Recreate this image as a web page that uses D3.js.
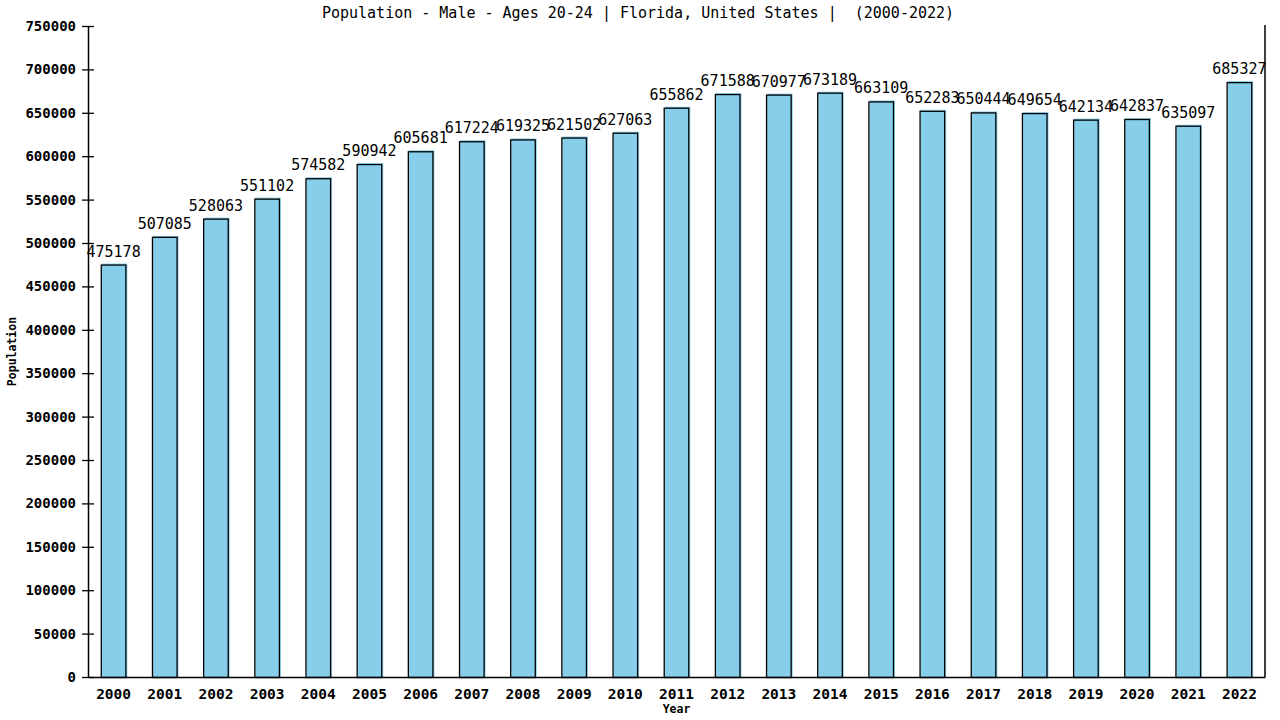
<!DOCTYPE html>
<html>
<head>
<meta charset="utf-8">
<script src="https://cdn.jsdelivr.net/npm/d3@7"></script>
<style>
  body { margin: 0; background: #fff; }
  text { font-family: "DejaVu Sans Mono", monospace; fill: #000; }
</style>
</head>
<body>
<svg id="chart" width="1280" height="720"></svg>
<script>
var years = ['2000', '2001', '2002', '2003', '2004', '2005', '2006', '2007', '2008', '2009', '2010', '2011',
    '2012', '2013', '2014', '2015', '2016', '2017', '2018', '2019', '2020', '2021', '2022']
var population = [475178, 507085, 528063, 551102, 574582, 590942, 605681, 617224, 619325, 621502, 627063, 655862,
    671588, 670977, 673189, 663109, 652283, 650444, 649654, 642134, 642837, 635097, 685327]
var yTicks = [0, 50000, 100000, 150000, 200000, 250000, 300000, 350000, 400000, 450000, 500000, 550000,
    600000, 650000, 700000, 750000]
var title = 'Population - Male - Ages 20-24 | Florida, United States |  (2000-2022)'

var svg = d3.select('#chart')
var plotL = 88, plotR = 1265, plotT = 26, plotB = 677

var x = d3.scaleBand().domain(years).range([plotL, plotR]).paddingInner(0.5).paddingOuter(0.25)
var y = d3.scaleLinear().domain([0, 750000]).range([plotB, plotT])

svg.append('text')
    .attr('x', 638).attr('y', 18)
    .attr('text-anchor', 'middle')
    .style('font-size', '15px')
    .style('white-space', 'pre')
    .text(title)

// bars: blue fill nudged right/up, then black outline
var bars = svg.selectAll('g.bar')
    .data(population)
    .enter()
        .append('g')
        .attr('class', 'bar')
bars.append('rect')
    .attr('x', function(d, i) { return x(years[i]) + 1; })
    .attr('y', function(d) { return y(d) - 1; })
    .attr('width', x.bandwidth())
    .attr('height', function(d) { return plotB - y(d) + 1; })
    .attr('fill', '#87ceeb')
bars.append('rect')
    .attr('x', function(d, i) { return x(years[i]) + 0.5; })
    .attr('y', function(d) { return y(d) + 0.5; })
    .attr('width', x.bandwidth() - 1)
    .attr('height', function(d) { return plotB - y(d); })
    .attr('fill', 'none')
    .attr('stroke', '#000')
    .attr('stroke-width', 1.3)

svg.selectAll('text.val')
    .data(population)
    .enter()
        .append('text')
        .attr('class', 'val')
        .attr('text-anchor', 'middle')
        .attr('x', function(d, i) { return x(years[i]) + x.bandwidth() / 2; })
        .attr('y', function(d) { return y(d) - 8; })
        .style('font-size', '15px')
        .text(function(d) { return d; })

var yAxis = svg.append('g')
    .attr('transform', 'translate(' + plotL + ',0)')
    .call(d3.axisLeft(y).tickValues(yTicks).tickSize(6).tickSizeOuter(0).tickFormat(d3.format('d')))
yAxis.selectAll('text').style('font-size', '14px').style('font-weight', 'bold').attr('x', -12)
yAxis.selectAll('line').attr('x1', 6).attr('x2', -6)

var xAxis = svg.append('g')
    .attr('transform', 'translate(0,' + plotB + ')')
    .call(d3.axisBottom(x).tickSize(0).tickSizeOuter(0))
xAxis.selectAll('text').style('font-size', '14.5px').style('font-weight', 'bold').attr('dy', '1.3em')
svg.selectAll('.domain').attr('stroke', '#000').attr('stroke-width', 1.5)
svg.selectAll('.tick line').attr('stroke', '#000').attr('stroke-width', 1.3)

svg.append('line')
    .attr('x1', plotR).attr('x2', plotR)
    .attr('y1', plotT - 1).attr('y2', plotB)
    .attr('stroke', '#000').attr('stroke-width', 1.5)

svg.append('text')
    .attr('transform', 'translate(16,' + ((plotT + plotB) / 2) + ') rotate(-90)')
    .attr('text-anchor', 'middle')
    .style('font-size', '11.5px').style('font-weight', 'bold')
    .text('Population')

svg.append('text')
    .attr('x', (plotL + plotR) / 2).attr('y', 713)
    .attr('text-anchor', 'middle')
    .style('font-size', '11.5px').style('font-weight', 'bold')
    .text('Year')
</script>
</body>
</html>
